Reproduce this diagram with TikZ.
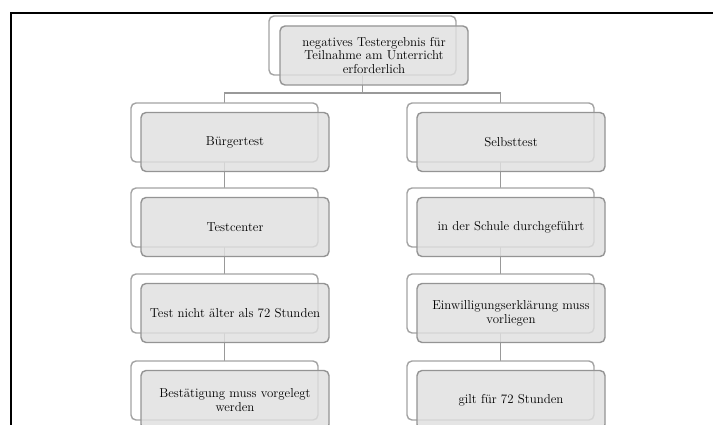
\documentclass[tikz,border=0pt]{standalone}
\pgfdeclarelayer{bg}
\pgfdeclarelayer{connlayer}
\pgfsetlayers{bg,connlayer,main}
\begin{document}
\begin{tikzpicture}[x=1pt,y=-1pt,
  backbox/.style={draw=black!36,line width=1.4pt,fill=white,rounded corners=5pt,
    minimum width=187pt,minimum height=59pt,inner sep=0pt,outer sep=0pt,anchor=north west},
  frontbox/.style={draw=black!42,line width=1.4pt,fill=black!12,fill opacity=0.82,text opacity=1,
    rounded corners=5pt,minimum width=188pt,minimum height=59pt,inner sep=0pt,outer sep=0pt,
    anchor=north west,align=center,text=black,font=\fontsize{12.9}{13.8}\selectfont},
  conn/.style={draw=black!40,line width=1.3pt},
  framestyle/.style={draw=black,line width=1.7pt}]
\begin{pgfonlayer}{bg}
\fill[white] (0,0) rectangle (713,425);
\end{pgfonlayer}
\useasboundingbox (0,0) rectangle (713,425);
\coordinate (fa) at (11,425);
\coordinate (fb) at (11,13);
\coordinate (fc) at (713,13);
\draw[framestyle] (fa) -- (fb) -- (fc);
% back boxes and front boxes
\node[backbox] (tb) at (269,16) {};
\node[frontbox] (tf) at (280,26) {negatives Testergebnis für\\Teilnahme am Unterricht\\erforderlich};
\node[backbox] (l1b) at (131,103) {};
\node[frontbox] (l1f) at (141,112.5) {Bürgertest};
\node[backbox] (l2b) at (131,188) {};
\node[frontbox] (l2f) at (141,197.5) {Testcenter};
\node[backbox] (l3b) at (131,274) {};
\node[frontbox] (l3f) at (141,283.5) {Test nicht älter als 72 Stunden};
\node[backbox] (l4b) at (131,361) {};
\node[frontbox] (l4f) at (141,370.5) {Bestätigung muss vorgelegt\\werden};
\node[backbox] (r1b) at (407,103) {};
\node[frontbox] (r1f) at (417,112.5) {Selbsttest};
\node[backbox] (r2b) at (407,188) {};
\node[frontbox] (r2f) at (417,197.5) {in der Schule durchgeführt};
\node[backbox] (r3b) at (407,274) {};
\node[frontbox] (r3f) at (417,283.5) {Einwilligungserklärung muss\\vorliegen};
\node[backbox] (r4b) at (407,361) {};
\node[frontbox] (r4f) at (417,370.5) {gilt für 72 Stunden};
\coordinate (bus) at (0,93);
\begin{pgfonlayer}{connlayer}
\draw[conn] (tb.center) -- (tb.center |- bus) -| (l1b.center);
\draw[conn] (tb.center |- bus) -| (r1b.center);
\draw[conn] (l1b.center) -- (l2b.center);
\draw[conn] (l2b.center) -- (l3b.center);
\draw[conn] (l3b.center) -- (l4b.center);
\draw[conn] (r1b.center) -- (r2b.center);
\draw[conn] (r2b.center) -- (r3b.center);
\draw[conn] (r3b.center) -- (r4b.center);
\end{pgfonlayer}
\end{tikzpicture}
\end{document}
